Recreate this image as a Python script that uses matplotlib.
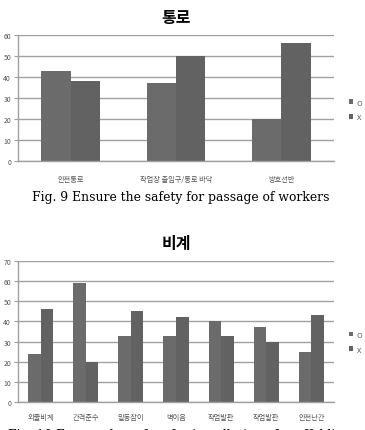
import matplotlib
matplotlib.use("Agg")
import matplotlib.pyplot as plt
import numpy as np

plt.rcParams['font.family'] = ['Noto Sans CJK KR', 'DejaVu Sans']

# chart 1 (통로)
cats1 = ["안전통로", "작업장 출입구/통로 바닥", "방호선반"]
o1 = [43, 37, 20]
x1 = [38, 50, 56]

# chart 2 (비계)
cats2 = ["외줄비계", "간격준수", "밑동잡이", "벽이음", "작업발판", "작업발판", "안전난간"]
o2 = [24, 59, 33, 33, 40, 37, 25]
x2 = [46, 20, 45, 42, 33, 30, 43]

W, H = 365, 431
O_COLOR = "#6b6b6b"
X_COLOR = "#626262"
GRID = "#a0a0a0"
TXT = "#555555"


def draw(fig, rect, cats, o_vals, x_vals, ymax, title, legend_y, xpad):
    l, t, w, h = rect
    ax = fig.add_axes([l / W, 1 - (t + h) / H, w / W, h / H])
    idx = np.arange(len(cats))
    bw = 0.28
    ax.bar(idx - bw / 2, o_vals, bw, color=O_COLOR, label="O")
    ax.bar(idx + bw / 2, x_vals, bw, color=X_COLOR, label="X")
    ax.set_xlim(-0.5, len(cats) - 0.5)
    ax.set_ylim(0, ymax)
    ax.set_yticks(range(0, ymax + 1, 10))
    ax.yaxis.grid(True, color=GRID, linewidth=1.0)
    ax.set_axisbelow(True)
    for s in ["top", "right"]:
        ax.spines[s].set_visible(False)
    for s in ["left", "bottom"]:
        ax.spines[s].set_color(GRID)
        ax.spines[s].set_linewidth(1.0)
    ax.set_xticks(idx)
    ax.set_xticklabels(cats, fontsize=5.2, color=TXT)
    ax.tick_params(axis="x", length=0, pad=xpad)
    ax.tick_params(axis="y", length=3, color=GRID, labelsize=5, labelcolor=TXT, pad=2)
    ax.set_title(title, fontsize=11.5, fontweight="bold", pad=9)
    ax.legend(loc="center left", bbox_to_anchor=(1.025, legend_y), frameon=False,
              fontsize=5.5, handlelength=0.6, handleheight=0.6, handletextpad=0.4,
              labelspacing=0.9, labelcolor=TXT)
    return ax


fig = plt.figure(figsize=(W / 100, H / 100), dpi=100)
fig.patch.set_facecolor("white")

draw(fig, (18, 36, 316, 126), cats1, o1, x1, 60, "통로", 0.405, 10)
draw(fig, (18, 262, 316, 141), cats2, o2, x2, 70, "비계", 0.425, 8)

fig.text(181 / W, 1 - 198 / H, "Fig. 9 Ensure the safety for passage of workers",
         family="DejaVu Serif", fontsize=8.9, ha="center", va="center")
# the second caption is cut off by the bottom edge in the reference
fig.text(8 / W, 1 - 435.5 / H, "Fig. 10 Ensure the safety for installation of scaffolding",
         family="DejaVu Serif", fontsize=8.9, ha="left", va="center")

fig.savefig("out.png", dpi=100)
